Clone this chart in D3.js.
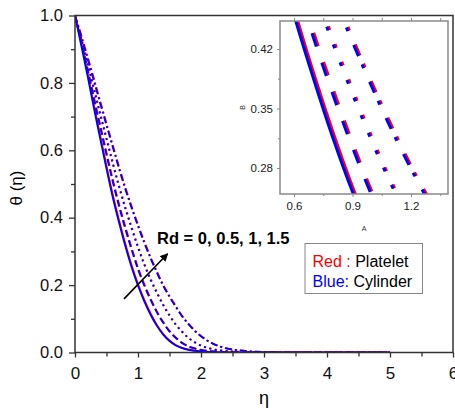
<!DOCTYPE html>
<html><head><meta charset="utf-8">
<script src="https://cdn.jsdelivr.net/npm/d3@7"></script>
<style>
body{margin:0;background:#fff}
svg{display:block}
text{font-family:Arial,"Liberation Sans",sans-serif}
</style>
</head><body>
<svg id="c" width="455" height="412"></svg>
<script>
// ---- data ----
const eta = [0,0.1,0.2,0.3,0.4,0.5,0.6,0.7,0.8,0.9,1.0,1.1,1.2,1.3,1.4,1.5,1.6,1.7,1.8,1.9,2.0,2.2,2.4,2.6,2.8,3.0,3.5,4.0,4.5,5.0];
const rdValues = ["0","0.5","1","1.5"];
// Blue : Cylinder
const cylRd0  = [1,0.910,0.820,0.725,0.635,0.545,0.460,0.385,0.315,0.252,0.198,0.152,0.112,0.079,0.053,0.034,0.021,0.013,0.008,0.005,0.003,0.001,0.0003,0,0,0,0,0,0,0];
const cylRd05 = [1,0.918,0.836,0.751,0.668,0.586,0.506,0.433,0.366,0.304,0.247,0.198,0.156,0.119,0.088,0.062,0.043,0.028,0.018,0.012,0.0075,0.003,0.0012,0.0004,0.0001,0,0,0,0,0];
const cylRd1  = [1,0.927,0.855,0.780,0.705,0.632,0.559,0.490,0.426,0.367,0.311,0.260,0.215,0.176,0.140,0.109,0.082,0.061,0.043,0.030,0.020,0.0093,0.0043,0.002,0.0008,0.0003,0,0,0,0];
const cylRd15 = [1,0.936,0.871,0.806,0.739,0.674,0.609,0.545,0.484,0.428,0.375,0.325,0.279,0.237,0.198,0.165,0.135,0.107,0.084,0.064,0.048,0.025,0.012,0.0063,0.003,0.0016,0.0002,0,0,0];
// Red : Platelet
const plaRd0  = [1,0.919,0.829,0.734,0.644,0.554,0.468,0.392,0.322,0.258,0.203,0.156,0.116,0.082,0.055,0.036,0.022,0.014,0.009,0.0055,0.0033,0.0012,0.0004,0.0001,0,0,0,0,0,0];
const plaRd05 = [1,0.926,0.844,0.759,0.676,0.594,0.514,0.440,0.373,0.310,0.252,0.203,0.160,0.122,0.091,0.064,0.045,0.029,0.019,0.0125,0.008,0.0033,0.0014,0.0005,0.0002,0,0,0,0,0];
const plaRd1  = [1,0.934,0.862,0.787,0.712,0.639,0.566,0.496,0.432,0.373,0.316,0.264,0.219,0.180,0.143,0.112,0.084,0.063,0.044,0.031,0.021,0.010,0.0047,0.0022,0.0009,0.0004,0,0,0,0];
const plaRd15 = [1,0.942,0.878,0.813,0.746,0.680,0.615,0.551,0.490,0.433,0.380,0.330,0.283,0.241,0.201,0.168,0.138,0.109,0.086,0.066,0.049,0.026,0.013,0.0066,0.0032,0.0017,0.0003,0,0,0];

const xTicks = [0,1,2,3,4,5,6];
const xMinor = [0.5,1.5,2.5,3.5,4.5,5.5];
const yTicks = [0,0.2,0.4,0.6,0.8,1.0];
const yMinor = [0.1,0.3,0.5,0.7,0.9];
const inXTicks = [0.6,0.9,1.2];
const inXMinor = [0.75,1.05,1.35];
const inYTicks = [0.28,0.35,0.42];
const inYMinor = [0.315,0.385];

const cylinder = [cylRd0, cylRd05, cylRd1, cylRd15];
const platelet = [plaRd0, plaRd05, plaRd1, plaRd15];

// ---- drawing ----
const svg = d3.select("#c");
const BLUE = "#0000ff", RED = "#ff0000", AX = "#333";
const L = 75, T = 15.5, R = 453, B = 352.5;
const x = d3.scaleLinear().domain([0,6]).range([L,R]);
const y = d3.scaleLinear().domain([0,1]).range([B,T]);

const defs = svg.append("defs");
defs.append("clipPath").attr("id","clipMain").append("rect")
  .attr("x",L).attr("y",T).attr("width",R-L).attr("height",B-T);
defs.append("marker").attr("id","arr").attr("viewBox","0 0 10 10")
  .attr("refX",9).attr("refY",5).attr("markerWidth",5).attr("markerHeight",5)
  .attr("markerUnits","strokeWidth").attr("orient","auto")
  .append("path").attr("d","M0,0L10,5L0,10z").attr("fill","#000");

const mainDash = [null,"7,3.5","2,3.5","7,3,2,3"];

function drawCurves(g, xs, ys, dashes, width){
  const line = d3.line().x((d,i)=>xs(eta[i])).y(d=>ys(d)).curve(d3.curveMonotoneX);
  for(let k=0;k<4;k++){
    g.append("path").datum(platelet[k]).attr("d",line)
      .attr("fill","none").attr("stroke",RED).attr("stroke-width",width)
      .attr("stroke-dasharray",dashes[k]);
    g.append("path").datum(cylinder[k]).attr("d",line)
      .attr("fill","none").attr("stroke",BLUE).attr("stroke-width",width)
      .attr("stroke-dasharray",dashes[k]);
  }
}

const gMain = svg.append("g").attr("clip-path","url(#clipMain)");
drawCurves(gMain, x, y, mainDash, 1.8);

function styleAxis(g, fs){
  g.select(".domain").remove();
  g.selectAll("line").attr("stroke",AX).attr("stroke-width",1.3);
  g.selectAll("text").attr("fill","#111").style("font-size",fs+"px");
}

// main axes
svg.append("g").attr("transform",`translate(0,${B})`)
  .call(d3.axisBottom(x).tickValues(xTicks).tickSize(5).tickPadding(9).tickFormat(d3.format("d")))
  .call(g=>styleAxis(g,17));
svg.append("g").attr("transform",`translate(0,${B})`)
  .call(d3.axisBottom(x).tickValues(xMinor).tickSize(4).tickFormat(""))
  .call(g=>styleAxis(g,16));
svg.append("g").attr("transform",`translate(${L},0)`)
  .call(d3.axisLeft(y).tickValues(yTicks).tickSize(6).tickPadding(6).tickFormat(d3.format(".1f")))
  .call(g=>styleAxis(g,16.5));
svg.append("g").attr("transform",`translate(${L},0)`)
  .call(d3.axisLeft(y).tickValues(yMinor).tickSize(4).tickFormat(""))
  .call(g=>styleAxis(g,16));
svg.append("rect").attr("x",L).attr("y",T).attr("width",R-L).attr("height",B-T)
  .attr("fill","none").attr("stroke",AX).attr("stroke-width",1.5);

svg.append("text").attr("x",(L+R)/2).attr("y",404).attr("text-anchor","middle")
  .style("font-size","18px").text("η");
svg.append("text").attr("transform",`translate(22,188) rotate(-90)`).attr("text-anchor","middle")
  .style("font-size","17px").text("θ (η)");

// arrow + annotation
svg.append("line").attr("x1",x(0.778)).attr("y1",y(0.159)).attr("x2",x(1.47)).attr("y2",y(0.293))
  .attr("stroke","#000").attr("stroke-width",1.6).attr("marker-end","url(#arr)");
svg.append("text").attr("x",157).attr("y",243.5).style("font-size","16.5px").style("font-weight","bold")
  .text("Rd = " + rdValues.join(", "));

// legend
const lg = svg.append("g");
lg.append("rect").attr("x",305).attr("y",243.5).attr("width",117.5).attr("height",50)
  .attr("fill","#fff").attr("stroke","#888").attr("stroke-width",1);
const t1 = lg.append("text").attr("x",312.5).attr("y",267).style("font-size","16px");
t1.append("tspan").attr("fill",RED).text("Red : ");
t1.append("tspan").attr("fill","#000").text("Platelet");
const t2 = lg.append("text").attr("x",312.5).attr("y",287).style("font-size","16px");
t2.append("tspan").attr("fill",BLUE).text("Blue: ");
t2.append("tspan").attr("fill","#000").text("Cylinder");

// ---- inset ----
const IL = 280, IT = 21, IR = 448, IB = 194;
const xi = d3.scaleLinear().domain([0.528,1.39]).range([IL,IR]);
const yi = d3.scaleLinear().domain([0.2494,0.4529]).range([IB,IT]);
defs.append("clipPath").attr("id","clipIn").append("rect")
  .attr("x",IL).attr("y",IT).attr("width",IR-IL).attr("height",IB-IT);
svg.append("rect").attr("x",IL).attr("y",IT).attr("width",IR-IL).attr("height",IB-IT).attr("fill","#fff");
const gIn = svg.append("g").attr("clip-path","url(#clipIn)");
drawCurves(gIn, xi, yi, [null,"14,17","4,15","12,9,4,15"], 3);

const GR = "#8a8a8a";
function styleIn(g){
  g.select(".domain").remove();
  g.selectAll("line").attr("stroke",GR).attr("stroke-width",1);
  g.selectAll("text").attr("fill","#222").style("font-size","11.5px");
}
svg.append("g").attr("transform",`translate(0,${IB})`)
  .call(d3.axisBottom(xi).tickValues(inXTicks).tickSize(3).tickPadding(5).tickFormat(d3.format(".1f"))).call(styleIn);
svg.append("g").attr("transform",`translate(0,${IB})`)
  .call(d3.axisBottom(xi).tickValues(inXMinor).tickSize(2).tickFormat("")).call(styleIn);
svg.append("g").attr("transform",`translate(0,${IT})`)
  .call(d3.axisTop(xi).tickValues(inXTicks.concat(inXMinor)).tickSize(3).tickFormat("")).call(styleIn);
svg.append("g").attr("transform",`translate(${IL},0)`)
  .call(d3.axisLeft(yi).tickValues(inYTicks).tickSize(3).tickPadding(4).tickFormat(d3.format(".2f"))).call(styleIn);
svg.append("g").attr("transform",`translate(${IL},0)`)
  .call(d3.axisLeft(yi).tickValues(inYMinor).tickSize(2).tickFormat("")).call(styleIn);
svg.append("rect").attr("x",IL).attr("y",IT).attr("width",IR-IL).attr("height",IB-IT)
  .attr("fill","none").attr("stroke",GR).attr("stroke-width",1.5);
svg.append("text").attr("x",(IL+IR)/2).attr("y",231).attr("text-anchor","middle")
  .style("font-size","7px").attr("fill","#333").text("A");
svg.append("text").attr("transform",`translate(245,${(IT+IB)/2}) rotate(-90)`).attr("text-anchor","middle")
  .style("font-size","7px").attr("fill","#333").text("B");
</script>
</body></html>
